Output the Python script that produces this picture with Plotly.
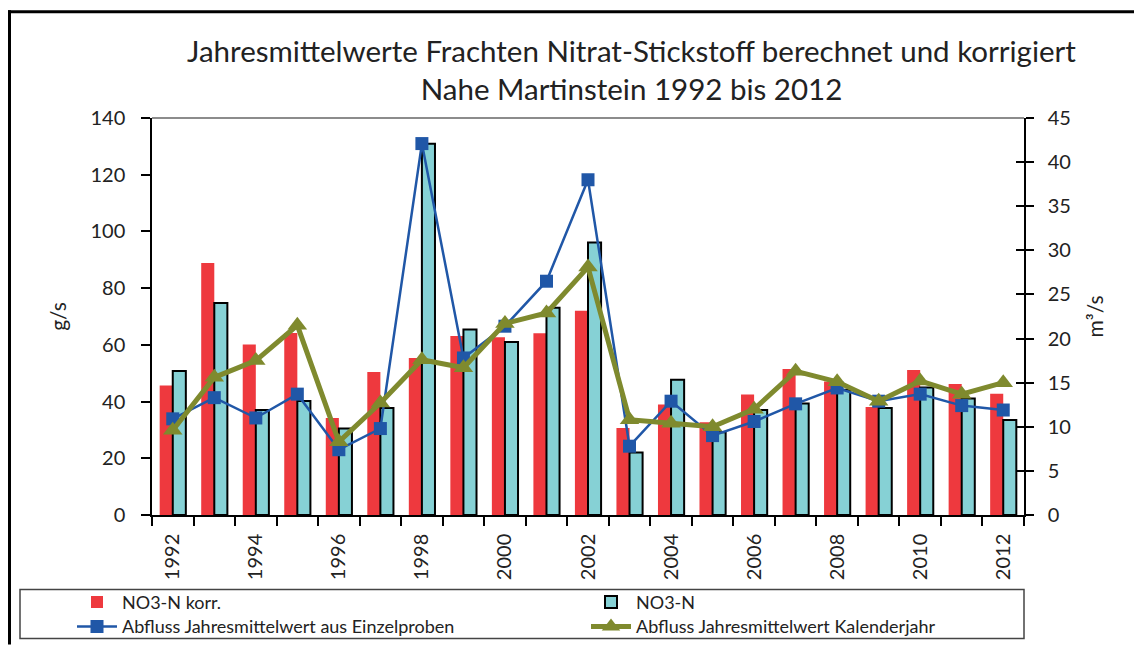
import plotly.graph_objects as go

years = list(range(1992, 2013))
no3n_korr = [45.7, 88.9, 60.1, 64.2, 34.2, 50.4, 55.4, 63.1, 62.7, 64.1, 72.0,
             30.7, 39.0, 32.7, 42.5, 51.5, 47.1, 38.1, 51.1, 46.2, 42.8]
no3n = [50.8, 74.8, 37.0, 40.2, 30.5, 37.7, 130.9, 65.4, 61.0, 73.1, 96.1,
        22.0, 47.7, 29.2, 37.0, 39.3, 44.2, 37.7, 45.0, 41.1, 33.5]
abfluss_einzel = [10.9, 13.3, 11.0, 13.7, 7.4, 9.8, 42.1, 17.8, 21.4, 26.5, 38.0,
                  7.8, 12.9, 9.0, 10.6, 12.6, 14.4, 12.9, 13.7, 12.4, 11.9]
abfluss_kalender = [9.6, 15.6, 17.5, 21.5, 8.3, 12.7, 17.6, 16.7, 21.7, 22.9, 28.1,
                    10.8, 10.4, 10.0, 12.0, 16.3, 15.1, 12.9, 15.2, 13.7, 15.0]
tick_years = [y for y in years if y % 2 == 0]

FONT = "Lato"
TXT = "#222222"

fig = go.Figure()
fig.add_trace(go.Bar(x=years, y=no3n_korr, name="NO3-N korr.", legend="legend",
                     marker=dict(color="#EE393E", line=dict(width=0))))
fig.add_trace(go.Bar(x=years, y=no3n, name="NO3-N", legend="legend2",
                     marker=dict(color="#86D1D5", line=dict(color="black", width=2))))
fig.add_trace(go.Scatter(x=years, y=abfluss_einzel, name="Abfluss Jahresmittelwert aus Einzelproben",
                         yaxis="y2", mode="lines+markers", legend="legend3",
                         line=dict(color="#2057A7", width=2.5),
                         marker=dict(symbol="square", size=13, color="#2057A7")))
fig.add_trace(go.Scatter(x=years, y=abfluss_kalender, name="Abfluss Jahresmittelwert Kalenderjahr",
                         yaxis="y2", mode="lines+markers", legend="legend4",
                         line=dict(color="#7F8A2E", width=5),
                         marker=dict(symbol="triangle-up", size=17, color="#7F8A2E")))
# invisible helper so the inner half of the right-axis cross ticks is drawn
fig.add_trace(go.Scatter(x=years, y=abfluss_kalender, yaxis="y3", mode="lines",
                         line=dict(width=0), opacity=0, showlegend=False, hoverinfo="skip"))

# The page body keeps its default 8px margin, so the figure is 16px smaller
# than the window and all reference pixel positions are shifted by OFF.
OFF = 8
W, H = 1144 - 2 * OFF, 665 - 2 * OFF
PL, PR, PT, PB = 152, 1024, 118, 523          # plot area in window pixels
L, R, T, B = PL - OFF, W - (PR - OFF), PT - OFF, H - (PB - OFF)
pw, ph = W - L - R, H - T - B


def px_x(p):
    return (p - OFF - L) / pw


def px_y(p):
    return (H - B - (p - OFF)) / ph


legend_common = dict(orientation="v", xanchor="left", yanchor="middle",
                     font=dict(family=FONT, size=18, color=TXT),
                     bgcolor="rgba(0,0,0,0)", borderwidth=0, itemwidth=40,
                     tracegroupgap=0)

fig.update_layout(
    width=W, height=H,
    margin=dict(l=L, r=R, t=T, b=B, pad=0),
    paper_bgcolor="white", plot_bgcolor="white",
    font=dict(family=FONT, color=TXT, size=18),
    barmode="group", bargap=0.37, bargroupgap=0,
    title=dict(text="Jahresmittelwerte Frachten Nitrat-Stickstoff berechnet und korrigiert<br>Nahe Martinstein 1992 bis 2012",
               x=px_x(634), xanchor="center", y=1 - (62 - OFF) / H, yanchor="top",
               font=dict(family=FONT, size=29.5, color=TXT)),
    xaxis=dict(range=[1991.5, 2012.5], tickmode="array", tickvals=tick_years,
               ticktext=[str(y) for y in tick_years], tickangle=-90,
               ticks="", showline=True, linecolor="black", linewidth=1.5,
               showgrid=False, zeroline=False, ticklabelstandoff=9,
               tickfont=dict(size=20), automargin=False,
               minor=dict(ticks="outside", tick0=1991.5, dtick=1, ticklen=9,
                          tickcolor="black", tickwidth=1.5, showgrid=False)),
    yaxis=dict(range=[0, 140], dtick=20, ticks="outside", ticklen=9, tickwidth=1.5,
               tickcolor="black", showline=True, linecolor="black", linewidth=1.5,
               showgrid=False, zeroline=False, ticklabelstandoff=12,
               tickfont=dict(size=20), automargin=False,
               title=dict(text="g/s", standoff=18, font=dict(size=21))),
    yaxis2=dict(range=[0, 45], dtick=5, overlaying="y", side="right",
                ticks="outside", ticklen=8, tickwidth=1.5, tickcolor="black",
                showline=True, linecolor="black", linewidth=1.5,
                showgrid=False, zeroline=False, ticklabelstandoff=10,
                tickfont=dict(size=20), automargin=False,
                title=dict(text="m³/s", standoff=18, font=dict(size=21))),
    yaxis3=dict(range=[0, 45], dtick=5, overlaying="y", side="right",
                ticks="inside", ticklen=8, tickwidth=1.5, tickcolor="black",
                showline=False, showticklabels=False, showgrid=False,
                zeroline=False, automargin=False),
    legend=dict(x=px_x(72), y=px_y(612), **legend_common),
    legend2=dict(x=px_x(586), y=px_y(612), **legend_common),
    legend3=dict(x=px_x(72), y=px_y(637), **legend_common),
    legend4=dict(x=px_x(586), y=px_y(637), **legend_common),
    showlegend=True,
)

fig_right = px_x(OFF + W - 2)      # just inside the right edge of the figure
fig_bottom = px_y(OFF + H - 2)     # just inside the bottom edge of the figure
shapes = [
    # gray top border of plot area
    dict(type="line", xref="paper", yref="paper", x0=0, x1=1, y0=1, y1=1,
         line=dict(color="#8c8c8c", width=2)),
    # legend box
    dict(type="rect", xref="paper", yref="paper", x0=px_x(20), x1=px_x(1024),
         y0=px_y(649), y1=px_y(599), line=dict(color="#444444", width=1.5)),
    # outer chart border (left and top edges; the rest is cut off in the original)
    dict(type="line", xref="paper", yref="paper", x0=px_x(9.5), x1=px_x(9.5),
         y0=fig_bottom, y1=px_y(8), line=dict(color="black", width=3)),
    dict(type="line", xref="paper", yref="paper", x0=px_x(8), x1=fig_right,
         y0=px_y(9.5), y1=px_y(9.5), line=dict(color="black", width=3)),
]
fig.update_layout(shapes=shapes)

fig.write_html("out.html", config={"displayModeBar": False})
